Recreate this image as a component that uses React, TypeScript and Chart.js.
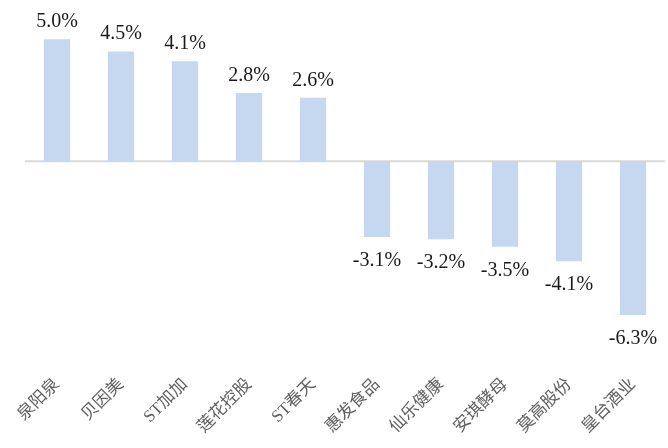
import React, { useEffect, useRef } from "react";
import { Chart, registerables } from "chart.js";

Chart.register(...registerables);

const categories = ["泉阳泉", "贝因美", "ST加加", "莲花控股", "ST春天", "惠发食品", "仙乐健康", "安琪酵母", "莫高股份", "皇台酒业"];
const values = [5.0, 4.5, 4.1, 2.8, 2.6, -3.1, -3.2, -3.5, -4.1, -6.3];
const valueLabels = ["5.0%", "4.5%", "4.1%", "2.8%", "2.6%", "-3.1%", "-3.2%", "-3.5%", "-4.1%", "-6.3%"];
const yMin = -8.5;
const yMax = 6.2;

const zeroLinePlugin = {
  id: "zeroLine",
  beforeDatasetsDraw(chart: any) {
    const { ctx, chartArea, scales } = chart;
    const y = scales.y.getPixelForValue(0);
    ctx.save();
    ctx.strokeStyle = "#d9d9d9";
    ctx.lineWidth = 2;
    ctx.beginPath();
    ctx.moveTo(chartArea.left, y);
    ctx.lineTo(chartArea.right, y);
    ctx.stroke();
    ctx.restore();
  },
};

const valueLabelPlugin = {
  id: "valueLabels",
  afterDatasetsDraw(chart: any) {
    const { ctx } = chart;
    const meta = chart.getDatasetMeta(0);
    ctx.save();
    ctx.font = "20px 'Liberation Serif', 'Times New Roman', serif";
    ctx.fillStyle = "#1a1a1a";
    ctx.textAlign = "center";
    ctx.textBaseline = "alphabetic";
    meta.data.forEach((el: any, i: number) => {
      const v = values[i];
      if (v >= 0) {
        ctx.fillText(valueLabels[i], el.x, el.y - 12);
      } else {
        ctx.fillText(valueLabels[i], el.x, el.y + 29);
      }
    });
    ctx.restore();
  },
};

export default function App() {
  const ref = useRef<HTMLCanvasElement | null>(null);
  useEffect(() => {
    if (!ref.current) return;
    const chart = new Chart(ref.current, {
      type: "bar",
      data: {
        labels: categories,
        datasets: [
          {
            data: values,
            backgroundColor: "#c5d8f0",
            borderWidth: 0,
            categoryPercentage: 1,
            barPercentage: 0.41,
          },
        ],
      },
      options: {
        animation: false,
        responsive: false,
        maintainAspectRatio: false,
        layout: { padding: { top: 10, left: 25, right: 3, bottom: 0 } },
        plugins: { legend: { display: false }, tooltip: { enabled: false } },
        scales: {
          x: {
            grid: { display: false, drawTicks: false },
            border: { display: false },
            ticks: {
              minRotation: 45,
              maxRotation: 45,
              autoSkip: false,
              padding: 6,
              color: "#606060",
              font: { size: 17, family: "'Liberation Serif', 'Noto Sans CJK SC', serif" },
            },
            afterFit: (s: any) => {
              s.height = 448 - 10 - (yMax - yMin) * 24.4;
              s.paddingLeft = 0;
              s.paddingRight = 0;
            },
          },
          y: {
            display: false,
            min: yMin,
            max: yMax,
          },
        },
      },
      plugins: [zeroLinePlugin, valueLabelPlugin],
    });
    return () => chart.destroy();
  }, []);
  return (
    <div style={{ position: "fixed", left: 0, top: 0, width: 668, height: 448, background: "#fff" }}>
      <canvas ref={ref} width={668} height={448} style={{ display: "block" }} />
    </div>
  );
}
